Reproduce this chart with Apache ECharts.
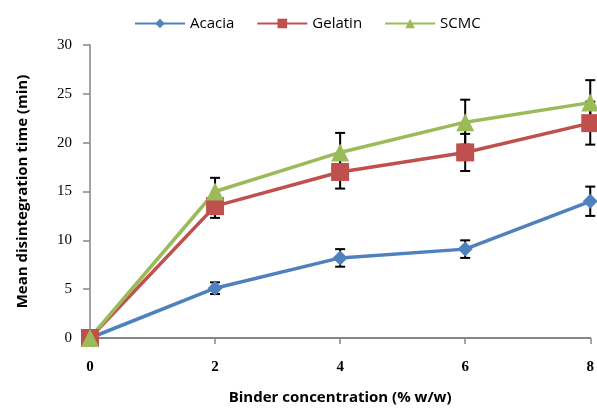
<!DOCTYPE html>
<html>
<head>
<meta charset="utf-8">
<script src="https://cdn.jsdelivr.net/npm/echarts@6/dist/echarts.min.js"></script>
<style>
  html, body { margin: 0; padding: 0; background: #fff; }
  #chart { width: 597px; height: 410px; }
</style>
</head>
<body>
<div id="chart"></div>
<script>
var concentration = [0, 2, 4, 6, 8];
var acacia = [0, 5.1, 8.2, 9.1, 14.0];
var acaciaErr = [0, 0.6, 0.9, 0.9, 1.5];
var gelatin = [0, 13.5, 17.0, 19.0, 22.0];
var gelatinErr = [0, 1.2, 1.7, 1.9, 2.2];
var scmc = [0, 15.0, 19.0, 22.1, 24.1];
var scmcErr = [0, 1.4, 2.0, 2.3, 2.3];

var colors = ["#4F81BD", "#C0504D", "#9BBB59"];

function pairs(vals) {
  return concentration.map(function (x, i) { return [x, vals[i]]; });
}

function errData(vals, errs) {
  return concentration.map(function (x, i) { return [x, vals[i] - errs[i], vals[i] + errs[i]]; });
}

// black error bars with caps, drawn under the lines
function errSeries(vals, errs) {
  return {
    type: "custom",
    z: 1,
    silent: true,
    data: errData(vals, errs),
    renderItem: function (params, api) {
      var lo = api.coord([api.value(0), api.value(1)]);
      var hi = api.coord([api.value(0), api.value(2)]);
      if (hi[1] === lo[1]) return null;
      var w = 5;
      var style = { stroke: "#000", lineWidth: 2 };
      return {
        type: "group",
        children: [
          { type: "line", shape: { x1: lo[0], y1: lo[1], x2: hi[0], y2: hi[1] }, style: style },
          { type: "line", shape: { x1: lo[0] - w, y1: lo[1], x2: lo[0] + w, y2: lo[1] }, style: style },
          { type: "line", shape: { x1: hi[0] - w, y1: hi[1], x2: hi[0] + w, y2: hi[1] }, style: style }
        ]
      };
    }
  };
}

function lineSeries(name, vals, idx, symbol, size) {
  return {
    name: name,
    type: "line",
    z: 3,
    data: pairs(vals),
    symbol: symbol,
    symbolSize: size,
    showAllSymbol: true,
    lineStyle: { color: colors[idx], width: 3.5 },
    itemStyle: { color: colors[idx] }
  };
}

var chart = echarts.init(document.getElementById("chart"));
var option = {
  animation: false,
  grid: { left: 90, right: 3, top: 45, bottom: 69 },
  legend: {
    top: 11,
    left: 129,
    itemWidth: 50,
    itemHeight: 12,
    itemGap: 22,
    textStyle: { fontFamily: "Open Sans", fontSize: 15, color: "#000" },
    data: ["Acacia", "Gelatin", "SCMC"]
  },
  xAxis: {
    type: "value",
    min: 0,
    max: 8,
    interval: 2,
    name: "Binder concentration (% w/w)",
    nameLocation: "middle",
    nameGap: 52,
    nameTextStyle: { fontFamily: "Open Sans", fontWeight: "bold", fontSize: 15, color: "#000" },
    axisLine: { lineStyle: { color: "#868686", width: 2 } },
    axisTick: { show: true, length: 6, lineStyle: { color: "#868686", width: 1.5 } },
    axisLabel: { margin: 22, fontFamily: "Liberation Serif", fontWeight: "bold", fontSize: 15, color: "#000" },
    splitLine: { show: false }
  },
  yAxis: {
    type: "value",
    min: 0,
    max: 30,
    interval: 5,
    name: "Mean disintegration time (min)",
    nameLocation: "middle",
    nameGap: 60,
    nameTextStyle: { fontFamily: "Open Sans", fontWeight: "bold", fontSize: 15, color: "#000" },
    axisLine: { show: true, lineStyle: { color: "#868686", width: 1.5 } },
    axisTick: { show: true, length: 7, lineStyle: { color: "#868686", width: 1.5 } },
    axisLabel: { margin: 18, fontFamily: "Liberation Serif", fontSize: 15, color: "#000" },
    splitLine: { show: false }
  },
  series: [
    errSeries(acacia, acaciaErr),
    errSeries(gelatin, gelatinErr),
    errSeries(scmc, scmcErr),
    lineSeries("Acacia", acacia, 0, "diamond", 15),
    lineSeries("Gelatin", gelatin, 1, "rect", 18),
    lineSeries("SCMC", scmc, 2, "triangle", 18)
  ]
};
chart.setOption(option);
</script>
</body>
</html>
